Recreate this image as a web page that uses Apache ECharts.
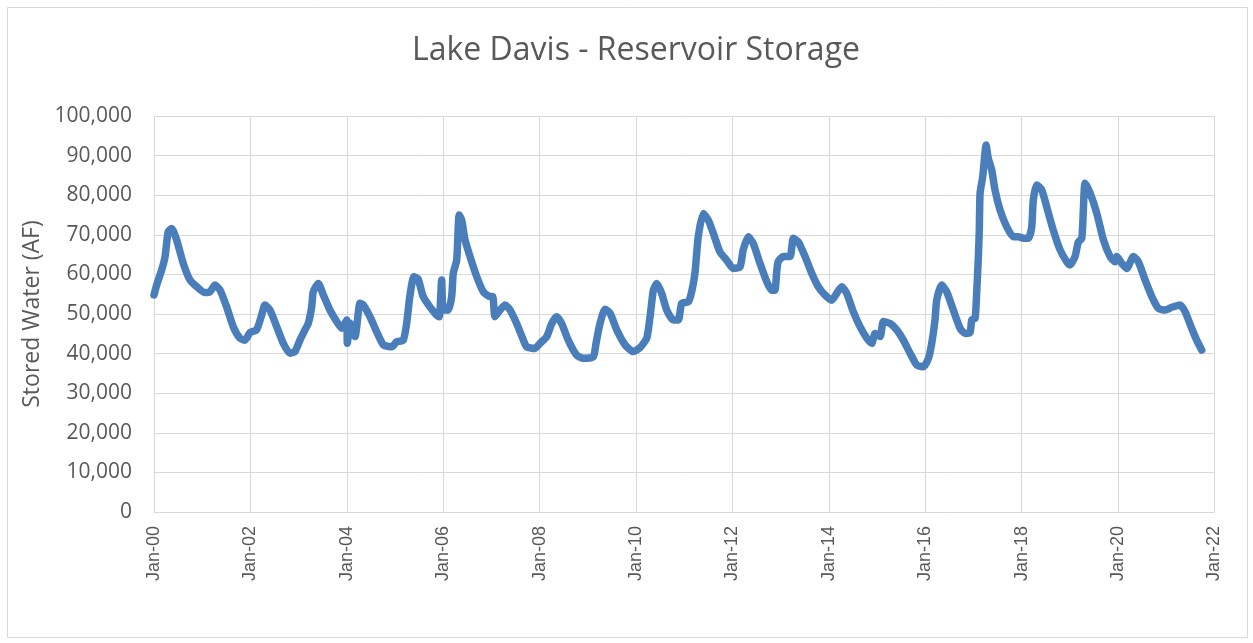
<!DOCTYPE html>
<html><head><meta charset="utf-8">
<script src="https://cdn.jsdelivr.net/npm/echarts@6/dist/echarts.min.js"></script>
<style>html,body{margin:0;padding:0;background:#fff}#c{width:1253px;height:643px}</style>
</head><body><div id="c"></div>
<script>
const chartTitle = 'Lake Davis - Reservoir Storage';
const yAxisName = 'Stored Water (AF)';
const xMinYear = 2000, xMaxYear = 2022, xStepYears = 2;
const yMin = 0, yMax = 100000, yStep = 10000;

const dates = [
'2000-01-01','2000-01-21','2000-02-28','2000-03-25','2000-04-18','2000-05-14','2000-06-21','2000-08-10','2000-09-30','2000-11-20',
'2001-01-22','2001-03-01','2001-04-08','2001-05-15','2001-07-05','2001-08-24','2001-10-13','2001-11-21','2001-12-29',
'2002-02-17','2002-03-27','2002-04-21','2002-05-29','2002-07-19','2002-09-07','2002-10-27','2002-12-04',
'2003-01-11','2003-02-18','2003-03-15','2003-04-10','2003-04-22','2003-05-30','2003-07-07','2003-08-26','2003-10-16','2003-11-23','2003-12-31',
'2004-01-05','2004-01-25','2004-03-03','2004-04-10','2004-05-05','2004-06-25','2004-08-15','2004-10-04','2004-12-07',
'2005-01-14','2005-03-04','2005-03-30','2005-04-23','2005-05-24','2005-06-25','2005-08-02','2005-09-22','2005-11-12','2005-12-02','2005-12-20',
'2006-01-01','2006-02-08','2006-03-06','2006-03-18','2006-04-13','2006-05-02','2006-05-21','2006-06-15','2006-07-23','2006-09-12','2006-11-01','2006-12-22',
'2007-01-11','2007-01-28','2007-03-07','2007-04-14','2007-05-22','2007-07-11','2007-08-31','2007-09-25','2007-11-27',
'2008-01-04','2008-02-24','2008-04-02','2008-05-09','2008-06-16','2008-08-05','2008-10-08','2008-11-27',
'2009-02-11','2009-03-04','2009-04-03','2009-05-11','2009-06-18','2009-08-08','2009-10-10','2009-12-11',
'2010-01-31','2010-03-23','2010-04-17','2010-05-12','2010-06-07','2010-07-14','2010-08-21','2010-10-10','2010-11-17','2010-12-13',
'2011-02-01','2011-02-26','2011-03-23','2011-04-17','2011-05-25','2011-07-02','2011-08-09','2011-09-28','2011-11-18',
'2012-01-07','2012-02-27','2012-03-23','2012-04-30','2012-06-07','2012-07-28','2012-09-17','2012-10-24','2012-11-18','2012-12-01','2012-12-13',
'2013-01-21','2013-03-13','2013-04-07','2013-05-15','2013-07-05','2013-08-24','2013-10-13','2013-12-03',
'2014-01-23','2014-03-01','2014-04-08','2014-05-16','2014-07-05','2014-08-25','2014-10-15','2014-11-22','2014-12-17',
'2015-01-24','2015-02-18','2015-04-10','2015-05-30','2015-07-19','2015-09-08','2015-10-29','2015-12-18',
'2016-01-25','2016-02-19','2016-03-15','2016-03-28','2016-05-05','2016-06-12','2016-08-01','2016-09-21','2016-10-29','2016-12-06','2016-12-19',
'2017-01-13','2017-01-25','2017-02-07','2017-02-14','2017-02-20','2017-03-12','2017-03-29','2017-04-06','2017-04-23','2017-05-19','2017-06-13','2017-07-21','2017-09-10','2017-10-30','2017-12-07',
'2018-01-14','2018-02-21','2018-03-18','2018-03-30','2018-04-25','2018-06-02','2018-07-09','2018-08-28','2018-10-19','2018-12-08',
'2019-01-02','2019-02-09','2019-03-06','2019-04-01','2019-04-13','2019-04-26','2019-06-03','2019-07-24','2019-09-12','2019-11-01','2019-12-09','2019-12-22',
'2020-01-29','2020-03-07','2020-04-26','2020-06-03','2020-07-24','2020-09-13','2020-11-02','2020-12-23',
'2021-02-11','2021-04-15','2021-05-23','2021-07-12','2021-08-19','2021-09-26'
];

const storage = [
54800,57300,61100,64500,70800,71600,68700,62800,58600,56900,
55400,55600,57300,56100,51800,46800,43900,43400,45300,
46000,49700,52300,51000,46800,42600,40100,40500,
43400,46000,47600,51800,55600,57700,54800,51000,48100,46400,48500,
42600,47700,44300,52700,52300,49300,45500,42200,41700,
43000,43400,47600,54400,59400,58800,54400,51800,49700,49300,58600,
51000,51000,54400,60300,63600,75000,73700,68700,64500,59400,55600,54400,
54400,49300,51000,52300,51000,47600,43400,41700,41300,
42600,44300,47600,49300,47600,43400,39600,38800,
39200,42600,47600,51200,50200,46000,42200,40500,
41500,43900,49300,56000,57700,55200,51000,48500,48500,52700,
53100,55600,60300,69500,75400,73700,70400,65700,63600,
61500,61900,66200,69500,67800,62800,58200,56000,56000,60300,63200,
64500,64500,69100,68200,64500,60300,56900,54800,
53500,55200,56900,55200,50600,46800,43900,42600,45100,
44300,48100,47600,46000,43400,40100,37100,36700,
38800,42600,48500,53500,57300,55600,51000,46400,45100,45300,48500,
48900,55200,64500,71200,80500,84700,90600,92700,89300,86400,81300,76300,72000,69500,69500,
69100,69100,72000,78800,82600,81300,77100,71200,66200,63200,
62400,64500,68200,69100,76300,83000,80500,75400,68700,64500,63200,64500,
62800,61500,64500,63200,58600,54400,51400,51000,
51700,52300,50600,46400,43400,40900
];

function decimalYear(s) {
  const p = s.split('-').map(Number);
  const t = Date.UTC(p[0], p[1] - 1, p[2]);
  const a = Date.UTC(p[0], 0, 1), b = Date.UTC(p[0] + 1, 0, 1);
  return p[0] + (t - a) / (b - a);
}
const seriesData = dates.map((d, i) => [decimalYear(d), storage[i]]);

const grey = '#595959';
const chart = echarts.init(document.getElementById('c'), null, {renderer: 'canvas'});
chart.setOption({
  animation: false,
  backgroundColor: '#ffffff',
  title: {
    text: chartTitle,
    left: 631, top: 30, textAlign: 'center',
    textStyle: {fontFamily: 'Open Sans', fontSize: 32, fontWeight: 'normal', color: grey}
  },
  graphic: [{
    type: 'rect', silent: true,
    shape: {x: 7.5, y: 7.5, width: 1240, height: 630},
    style: {fill: 'none', stroke: '#d9d9d9', lineWidth: 1}
  }],
  grid: {left: 154, right: 38.5, top: 116, bottom: 131, containLabel: false},
  xAxis: {
    type: 'value', min: xMinYear, max: xMaxYear, interval: xStepYears,
    axisLine: {show: true, lineStyle: {color: '#d9d9d9', width: 1}},
    axisTick: {show: false},
    splitLine: {show: true, lineStyle: {color: '#d9d9d9', width: 1}},
    axisLabel: {
      rotate: 90, margin: 14, color: grey, fontFamily: 'Liberation Sans', fontSize: 18,
      formatter: v => 'Jan-' + String(Math.round(v) % 100).padStart(2, '0')
    }
  },
  yAxis: {
    type: 'value', min: yMin, max: yMax, interval: yStep,
    name: yAxisName, nameLocation: 'middle', nameGap: 108,
    nameTextStyle: {fontFamily: 'Open Sans', fontSize: 23, color: grey},
    axisLine: {show: false}, axisTick: {show: false},
    splitLine: {show: true, lineStyle: {color: '#d9d9d9', width: 1}},
    axisLabel: {
      margin: 22, color: grey, fontFamily: 'Open Sans', fontSize: 21,
      formatter: v => v.toLocaleString('en-US')
    }
  },
  series: [{
    type: 'line', data: seriesData, showSymbol: false, smooth: 0.2,
    lineStyle: {color: '#4a7ebb', width: 7.5, cap: 'round', join: 'round'},
    itemStyle: {color: '#4a7ebb'}
  }]
});
</script>
</body></html>
